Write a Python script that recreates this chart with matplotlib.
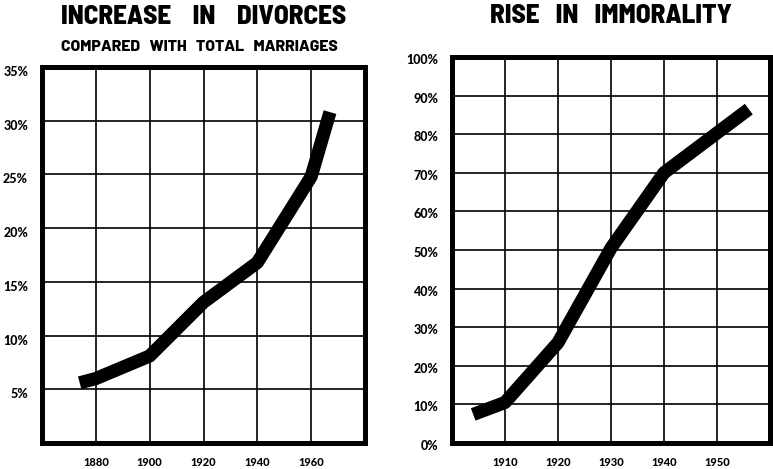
import matplotlib
matplotlib.use("Agg")
import matplotlib.pyplot as plt
import matplotlib.transforms as mtransforms

# ---- data ----
div_years = [1874, 1880, 1900, 1920, 1940, 1960, 1967]
div_values = [5.6, 6.0, 8.1, 13.1, 16.8, 24.8, 30.8]
div_xticks = [1880, 1900, 1920, 1940, 1960]
div_yticks = [5, 10, 15, 20, 25, 30, 35]

imm_years = [1904, 1910, 1920, 1930, 1940, 1956]
imm_values = [7.4, 10.5, 26.0, 50.5, 70.0, 86.5]
imm_xticks = [1910, 1920, 1930, 1940, 1950]
imm_yticks = [0, 10, 20, 30, 40, 50, 60, 70, 80, 90, 100]

W, H = 773, 469
fig = plt.figure(figsize=(W / 100, H / 100), dpi=100)
fig.patch.set_facecolor("white")

title_font = dict(family=["Barlow Semi Condensed", "DejaVu Sans"], weight=800)
sub_font = dict(family=["Barlow", "Barlow Semi Condensed", "DejaVu Sans"], weight=800)
tick_font = dict(family=["Lato", "DejaVu Sans"], weight="black")


def frac(x0, y0, x1, y1):
    return [x0 / W, 1 - y1 / H, (x1 - x0) / W, (y1 - y0) / H]


def style(ax, xlim, ylim, xticks, yticks, xlabels, ylabels, yoff_px):
    ax.set_xlim(*xlim)
    ax.set_ylim(*ylim)
    ax.set_xticks(xticks)
    ax.set_yticks(yticks)
    ax.set_xticklabels(xlabels, fontsize=8, **tick_font)
    ax.set_yticklabels(ylabels, fontsize=9, **tick_font)
    ax.tick_params(length=0, pad=0)
    ax.tick_params(axis="x", pad=10)
    ax.tick_params(axis="y", pad=10)
    ax.grid(True, color="black", linewidth=1.2)
    ax.set_axisbelow(True)
    for s in ax.spines.values():
        s.set_linewidth(3.6)
        s.set_color("black")
    off = mtransforms.ScaledTranslation(0, -yoff_px / 100, fig.dpi_scale_trans)
    for lab in ax.get_yticklabels():
        lab.set_transform(lab.get_transform() + off)


# left chart
ax1 = fig.add_axes(frac(42, 67, 365, 443))
ax1.plot(div_years, div_values, color="black", linewidth=9.5,
         solid_capstyle="butt", solid_joinstyle="round", zorder=5)
style(ax1, (1860, 1980), (0, 35), div_xticks, div_yticks,
      [str(v) for v in div_xticks], [f"{v}%" for v in div_yticks], 4)
ax1.yaxis.get_gridlines()[-1].set_visible(False)

fig.text(204 / W, 1 - 17 / H, "INCREASE    IN    DIVORCES", ha="center",
         va="center", fontsize=19.5, **title_font)
fig.text(199 / W, 1 - 47 / H, "COMPARED   WITH   TOTAL   MARRIAGES", ha="center",
         va="center", fontsize=11.3, **sub_font)

# right chart
ax2 = fig.add_axes(frac(452, 57, 770, 443))
ax2.plot(imm_years, imm_values, color="black", linewidth=9.5,
         solid_capstyle="butt", solid_joinstyle="round", zorder=5)
style(ax2, (1900, 1960), (0, 100), imm_xticks, imm_yticks,
      [str(v) for v in imm_xticks], [f"{v}%" for v in imm_yticks], 2)

fig.text(611 / W, 1 - 16 / H, "RISE   IN   IMMORALITY", ha="center", va="center",
         fontsize=19.5, **title_font)

fig.savefig("out.png", dpi=100, facecolor="white")
